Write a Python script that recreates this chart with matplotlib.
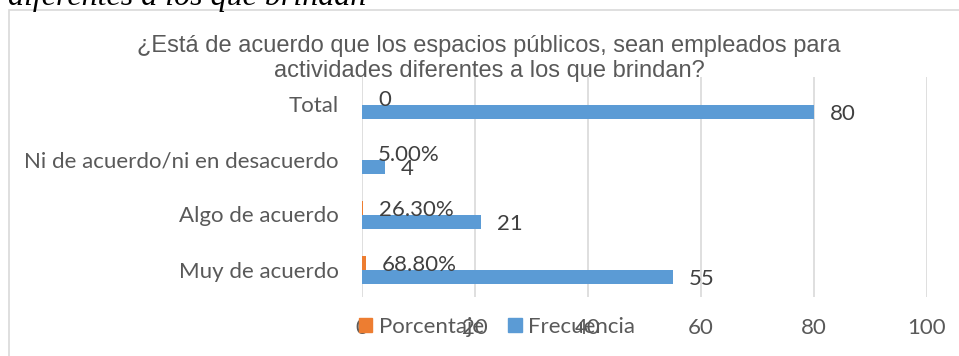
import matplotlib
matplotlib.use("Agg")
import matplotlib.pyplot as plt
from matplotlib.patches import Rectangle, Patch

categorias = ["Muy de acuerdo", "Algo de acuerdo",
              "Ni de acuerdo/ni en desacuerdo", "Total"]
frecuencia = [55, 21, 4, 80]
porcentaje = [0.688, 0.263, 0.05, 0]
etiquetas_pct = ["68.80%", "26.30%", "5.00%", "0"]
ticks_x = [0, 20, 40, 60, 80, 100]

titulo = ("¿Está de acuerdo que los espacios públicos, sean empleados para\n"
          "actividades diferentes a los que brindan?")

AZUL = "#5B9BD5"
NARANJA = "#ED7D31"
GRIS = "#595959"
GRIS_OSC = "#404040"
REJILLA = "#D9D9D9"

W, H = 959, 356
fig = plt.figure(figsize=(W / 100, H / 100), dpi=100)

# marco del gráfico
fig.patches.append(Rectangle((9 / W, -0.1), 1.0, (H - 10) / H + 0.1,
                             transform=fig.transFigure, fill=False,
                             edgecolor=REJILLA, linewidth=1.2))

# texto cortado de la página
fig.text(8 / W, 1 - 5 / H, "diferentes a los que brindan",
         family="Liberation Serif", style="italic", fontsize=23,
         color="black", ha="left", va="baseline")

ax = fig.add_axes([362 / W, 1 - 297 / H, 565 / W, 220 / H])

alto = 14 / 55
pos = list(range(len(categorias)))
y_pct = [p + alto / 2 for p in pos]
y_frec = [p - alto / 2 for p in pos]

ax.barh(y_pct, porcentaje, height=alto, color=NARANJA, label="Porcentaje", zorder=3)
ax.barh(y_frec, frecuencia, height=alto, color=AZUL, label="Frecuencia", zorder=3)

fuente = "Lato"
for y, v in zip(y_frec, frecuencia):
    ax.annotate(str(v), (v, y), xytext=(11.5, -1.5), textcoords="offset points",
                ha="left", va="center", fontsize=16, color=GRIS_OSC,
                family=fuente, zorder=4)
for y, v, t in zip(y_pct, porcentaje, etiquetas_pct):
    ax.annotate(t, (v, y), xytext=(11.5, -1.5), textcoords="offset points",
                ha="left", va="center", fontsize=16, color=GRIS_OSC,
                family=fuente, zorder=4)

ax.set_xlim(0, 100)
ax.set_ylim(-0.5, len(categorias) - 0.5)
ax.set_xticks(ticks_x)
ax.set_yticks(pos)
ax.set_yticklabels(categorias)
ax.grid(axis="x", color=REJILLA, linewidth=1.2, zorder=0)
ax.set_axisbelow(True)
for s in ax.spines.values():
    s.set_visible(False)
ax.tick_params(axis="both", length=0, labelsize=16, labelcolor=GRIS)
ax.tick_params(axis="y", pad=17)
ax.tick_params(axis="x", pad=15)
for lab in ax.get_xticklabels() + ax.get_yticklabels():
    lab.set_family(fuente)

fig.text(489 / W, 1 - 58.5 / H, titulo, ha="center", va="center",
         family="Liberation Sans", fontsize=17, color=GRIS, linespacing=1.22)

handles = [Patch(color=NARANJA), Patch(color=AZUL)]
fig.legend(handles, ["Porcentaje", "Frecuencia"], loc="center",
           bbox_to_anchor=(497 / W, 1 - 327 / H), ncol=2, frameon=False,
           prop={"family": fuente, "size": 16}, labelcolor=GRIS,
           handlelength=0.6, handleheight=0.6, handletextpad=0.3,
           columnspacing=1.1, borderpad=0)

fig.savefig("out.png", dpi=100)
